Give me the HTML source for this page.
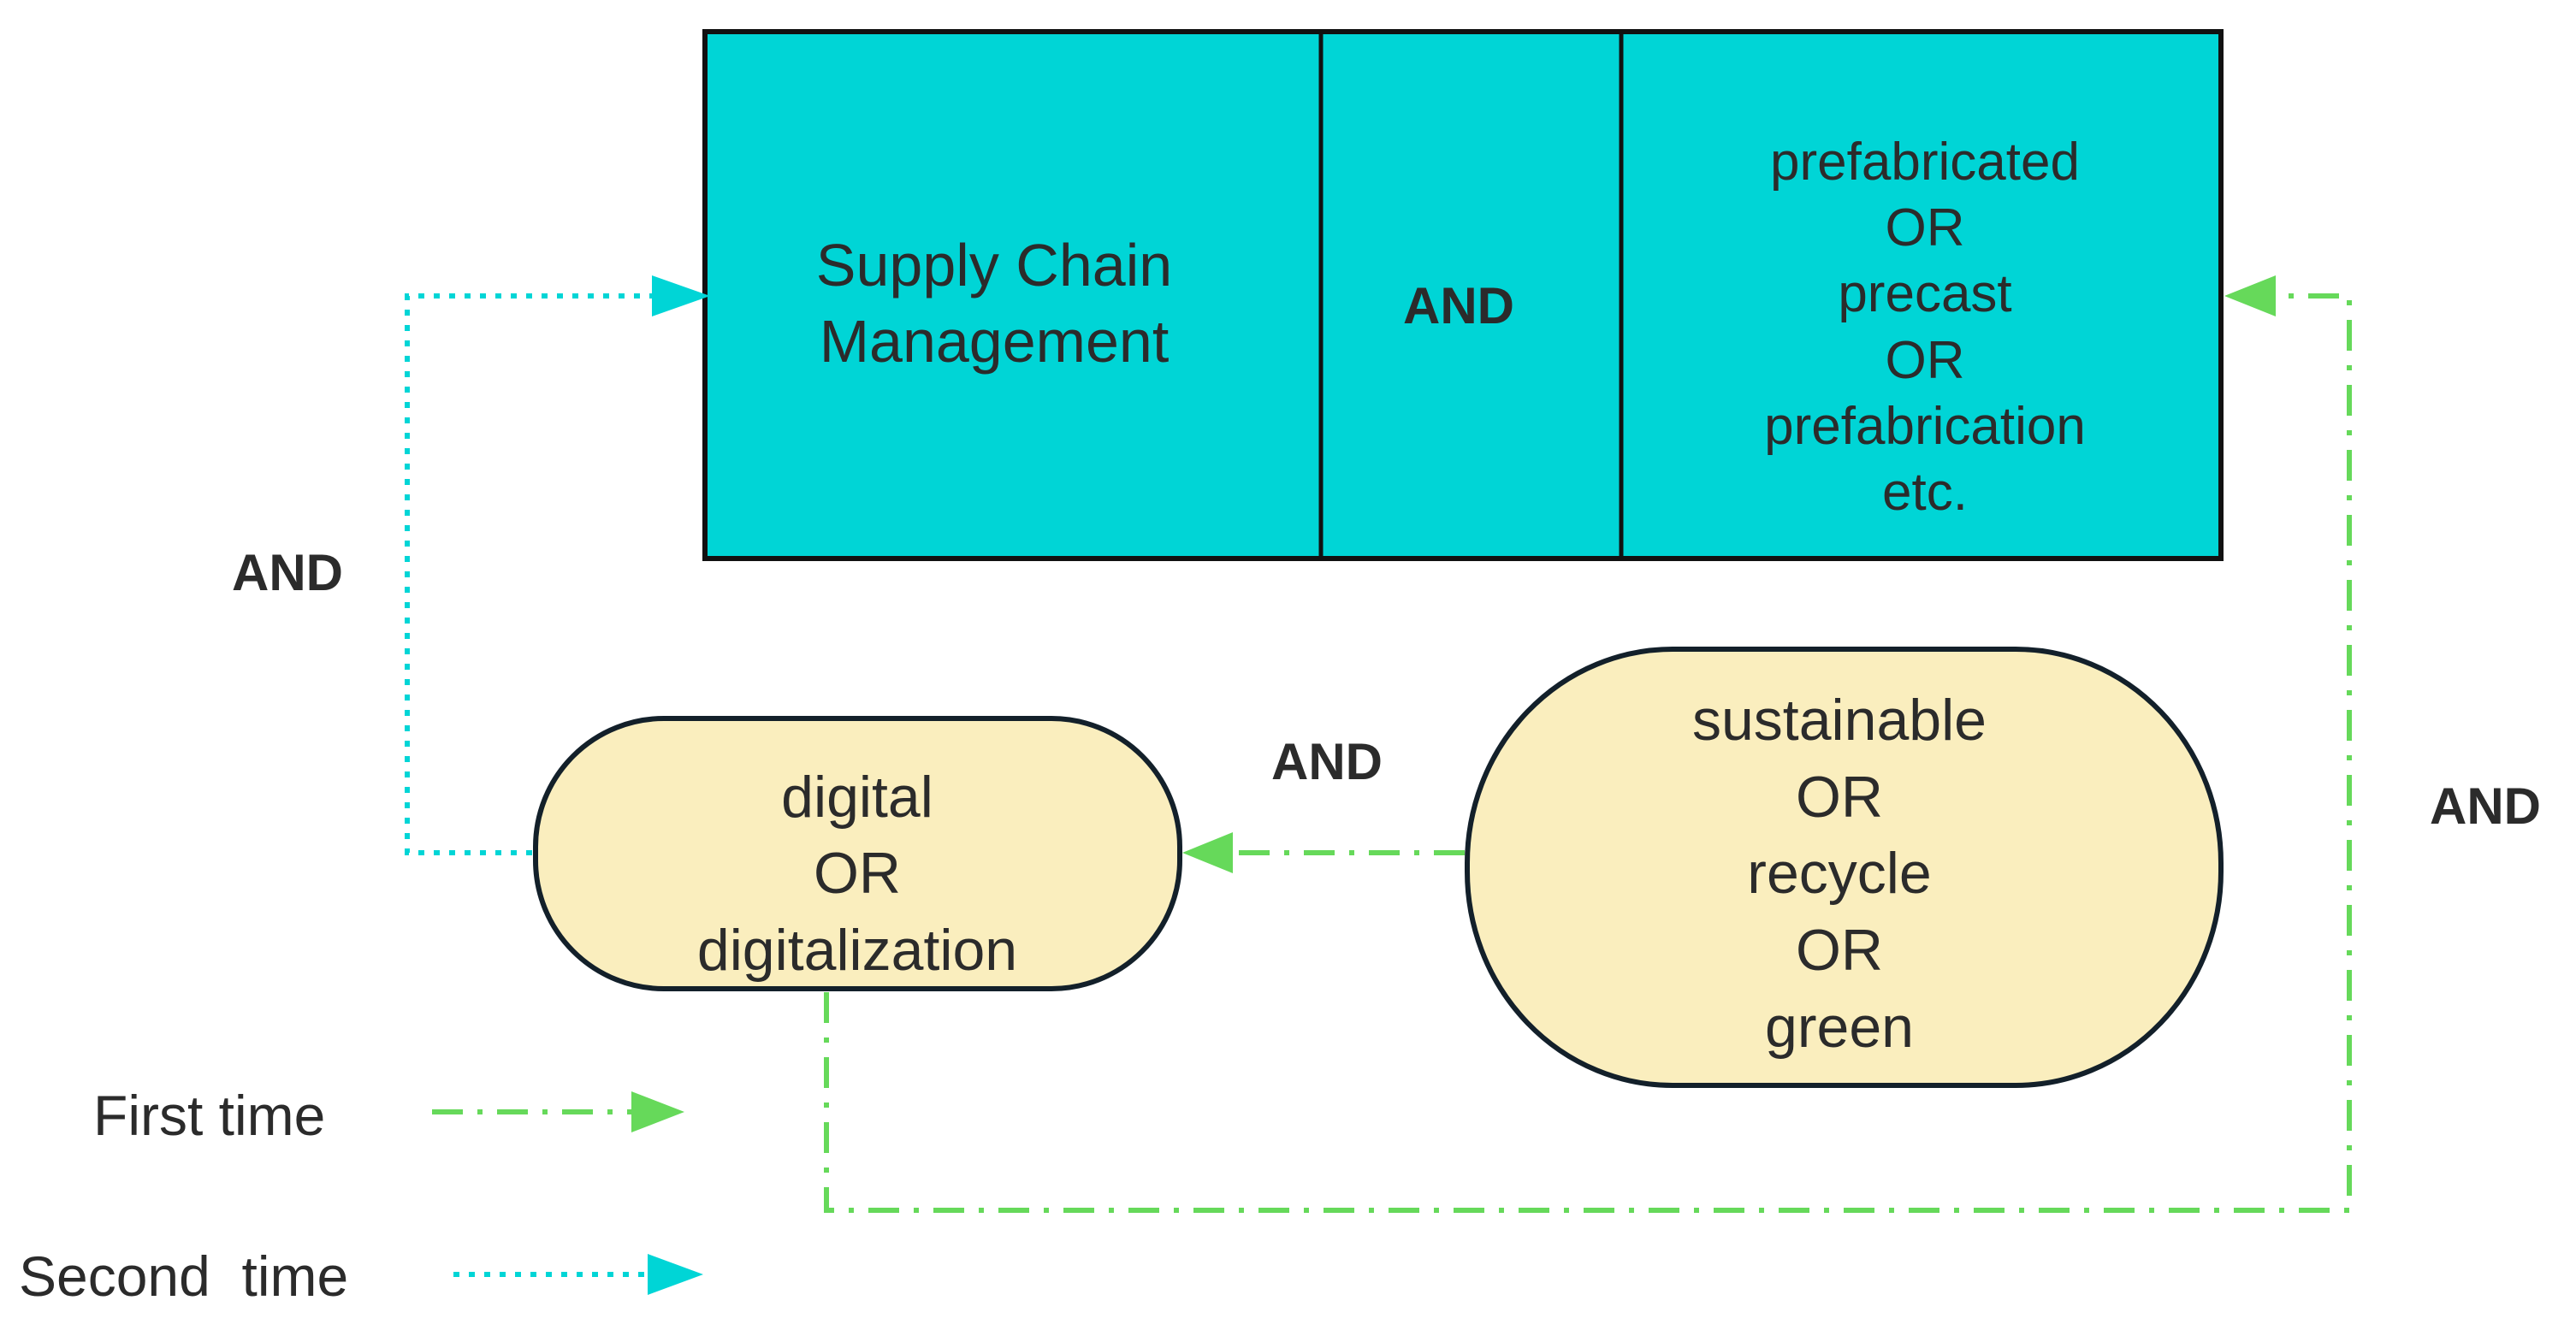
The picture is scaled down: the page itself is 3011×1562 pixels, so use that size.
<!DOCTYPE html>
<html><head><meta charset="utf-8"><style>
html,body{margin:0;padding:0;background:#fff;}
svg{display:block;}
text{font-family:"Liberation Sans","Noto Sans CJK SC",sans-serif;fill:#2b2b2b;text-anchor:middle;}
.b{font-weight:bold;}
</style></head><body>
<svg width="3011" height="1562" viewBox="0 0 3011 1562" xmlns="http://www.w3.org/2000/svg">
<!-- top rect -->
<rect x="824" y="37" width="1772" height="616" fill="#00d5d6" stroke="#111" stroke-width="6"/>
<line x1="1544" y1="37" x2="1544" y2="653" stroke="#111" stroke-width="5"/>
<line x1="1895" y1="37" x2="1895" y2="653" stroke="#111" stroke-width="5"/>
<g font-size="70">
<text x="1162" y="334">Supply Chain</text>
<text x="1162" y="423">Management</text>
</g>
<text x="1705" y="378" font-size="60" class="b">AND</text>
<g font-size="62">
<text x="2250" y="210">prefabricated</text>
<text x="2250" y="287">OR</text>
<text x="2250" y="364">precast</text>
<text x="2250" y="442">OR</text>
<text x="2250" y="519">prefabrication</text>
<text x="2250" y="596">etc.</text>
</g>
<!-- pills -->
<rect x="626" y="840" width="753" height="316" rx="150" ry="150" fill="#faeebe" stroke="#13202a" stroke-width="6"/>
<rect x="1715" y="759" width="881" height="510" rx="240" ry="250" fill="#faeebe" stroke="#13202a" stroke-width="6"/>
<g font-size="68">
<text x="1002" y="955">digital</text>
<text x="1002" y="1044">OR</text>
<text x="1002" y="1134">digitalization</text>
<text x="2150" y="865">sustainable</text>
<text x="2150" y="955">OR</text>
<text x="2150" y="1044">recycle</text>
<text x="2150" y="1134">OR</text>
<text x="2150" y="1224">green</text>
</g>
<g font-size="60" class="b">
<text x="336" y="690" class="b">AND</text>
<text x="1551" y="911" class="b">AND</text>
<text x="2905" y="963" class="b">AND</text>
</g>
<!-- cyan dotted -->
<polyline points="622,997 476,997 476,346 765,346" fill="none" stroke="#00d5d6" stroke-width="6" stroke-dasharray="7 11"/>
<polygon points="762,322 830,346 762,370" fill="#00d5d6"/>
<!-- green dash-dot -->
<g fill="none" stroke="#66d95a" stroke-width="6" stroke-dasharray="36 17 6 17">
<line x1="1712" y1="997" x2="1440" y2="997"/>
<polyline points="966,1160 966,1415 2746,1415 2746,346 2659,346"/>
<line x1="505" y1="1300" x2="745" y2="1300"/>
</g>
<polygon points="1441,973 1382,997 1441,1021" fill="#66d95a"/>
<polygon points="2660,322 2600,346 2660,370" fill="#66d95a"/>
<polygon points="738,1276 800,1300 738,1324" fill="#66d95a"/>
<!-- legend -->
<line x1="530" y1="1490" x2="760" y2="1490" stroke="#00d5d6" stroke-width="6" stroke-dasharray="7 11"/>
<polygon points="757,1466 822,1490 757,1514" fill="#00d5d6"/>
<g font-size="66" style="text-anchor:start">
<text x="109" y="1327" style="text-anchor:start">First time</text>
<text x="22" y="1515" style="text-anchor:start" xml:space="preserve">Second  time</text>
</g>
</svg>
</body></html>
